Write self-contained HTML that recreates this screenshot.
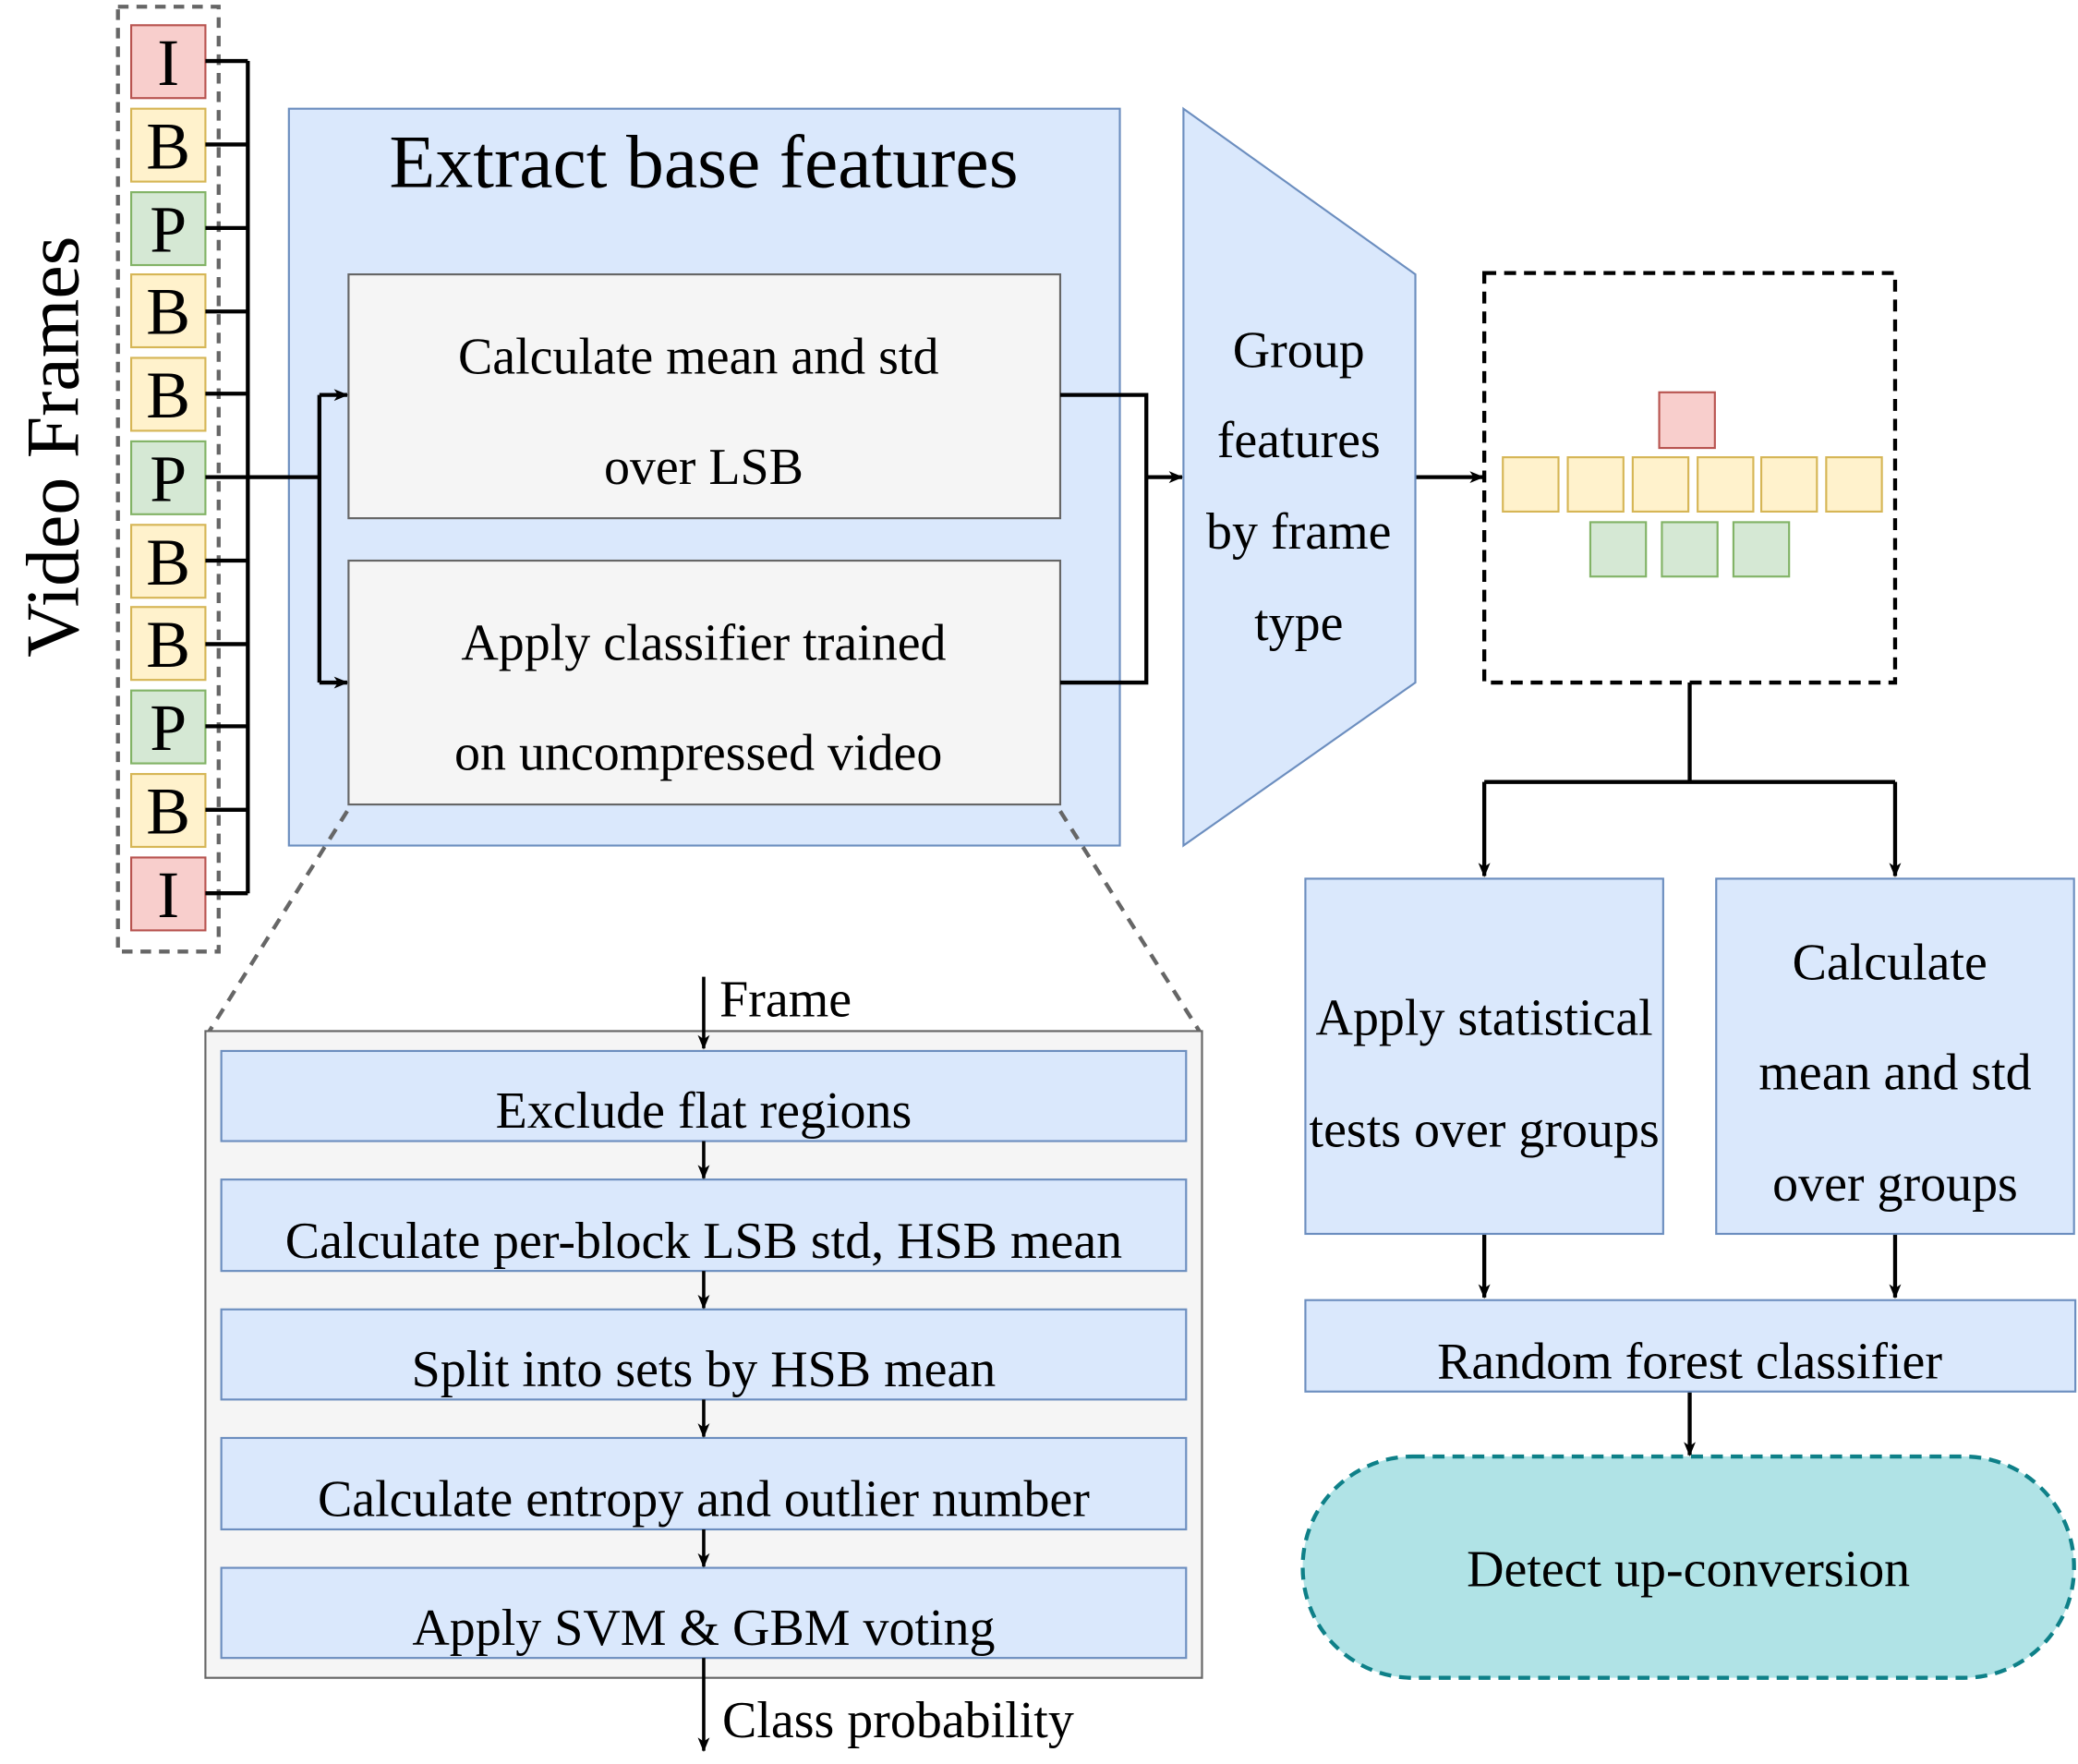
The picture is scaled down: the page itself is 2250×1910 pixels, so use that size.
<!DOCTYPE html>
<html><head><meta charset="utf-8"><style>html,body{margin:0;padding:0;background:#fff}svg{display:block}text{font-family:"Liberation Serif",serif;fill:#000}</style></head><body>
<svg width="2250" height="1910" viewBox="0 0 1568 1331" xmlns="http://www.w3.org/2000/svg">
<defs><marker id="a" markerWidth="12" markerHeight="12" refX="10" refY="6" orient="auto" markerUnits="userSpaceOnUse"><path d="M0,1.5 L11,6 L0,10.5 L3,6 Z" fill="#000"/></marker></defs>
<rect x="89" y="5" width="76" height="713" fill="none" stroke="#666" stroke-width="3" stroke-dasharray="8,6"/>
<g stroke-width="1.5" font-size="50" text-anchor="middle">
<rect x="99" y="19" width="56" height="55" fill="#f8cecc" stroke="#b85450"/><text x="127" y="64" stroke="none">I</text>
<rect x="99" y="82" width="56" height="55" fill="#fff2cc" stroke="#d6b656"/><text x="127" y="127">B</text>
<rect x="99" y="145" width="56" height="55" fill="#d5e8d4" stroke="#82b366"/><text x="127" y="190">P</text>
<rect x="99" y="207" width="56" height="55" fill="#fff2cc" stroke="#d6b656"/><text x="127" y="252">B</text>
<rect x="99" y="270" width="56" height="55" fill="#fff2cc" stroke="#d6b656"/><text x="127" y="315">B</text>
<rect x="99" y="333" width="56" height="55" fill="#d5e8d4" stroke="#82b366"/><text x="127" y="378">P</text>
<rect x="99" y="396" width="56" height="55" fill="#fff2cc" stroke="#d6b656"/><text x="127" y="441">B</text>
<rect x="99" y="458" width="56" height="55" fill="#fff2cc" stroke="#d6b656"/><text x="127" y="503">B</text>
<rect x="99" y="521" width="56" height="55" fill="#d5e8d4" stroke="#82b366"/><text x="127" y="566">P</text>
<rect x="99" y="584" width="56" height="55" fill="#fff2cc" stroke="#d6b656"/><text x="127" y="629">B</text>
<rect x="99" y="647" width="56" height="55" fill="#f8cecc" stroke="#b85450"/><text x="127" y="692">I</text>
</g>
<text x="0" y="0" font-size="57" text-anchor="middle" transform="translate(59,337) rotate(-90)">Video Frames</text>
<rect x="218" y="82" width="627" height="556" fill="#dae8fc" stroke="#6c8ebf" stroke-width="1.5"/>
<g stroke="#000" stroke-width="3" fill="none">
<path d="M155,46H187M155,109H187M155,172H187M155,235H187M155,297H187M155,423H187M155,486H187M155,548H187M155,611H187M155,674H187M187,46V674"/>
<path d="M155,360H241M241,298V515"/>
<path d="M241,298H262" marker-end="url(#a)"/><path d="M241,515H262" marker-end="url(#a)"/>
</g>
<text x="531" y="141" font-size="57" text-anchor="middle">Extract base features</text>
<rect x="263" y="207" width="537" height="184" fill="#f5f5f5" stroke="#666" stroke-width="1.5"/>
<rect x="263" y="423" width="537" height="184" fill="#f5f5f5" stroke="#666" stroke-width="1.5"/>
<g font-size="39" text-anchor="middle">
<text x="527" y="282">Calculate mean and std</text><text x="531" y="365">over LSB</text>
<text x="531" y="498">Apply classifier trained</text><text x="527" y="581">on uncompressed video</text>
</g>
<g stroke="#000" stroke-width="3" fill="none">
<path d="M800,298H865V515H800"/><path d="M865,360H892" marker-end="url(#a)"/>
<path d="M1068,360H1119" marker-end="url(#a)"/>
</g>
<polygon points="893,82 1068,207 1068,515 893,638" fill="#dae8fc" stroke="#6c8ebf" stroke-width="1.5"/>
<g font-size="39" text-anchor="middle"><text x="980" y="277">Group</text><text x="980" y="345">features</text><text x="980" y="414">by frame</text><text x="980" y="483">type</text></g>
<rect x="1120" y="206" width="310" height="309" fill="none" stroke="#000" stroke-width="3" stroke-dasharray="9,6"/>
<g stroke-width="1.5">
<rect x="1252" y="296" width="42" height="42" fill="#f8cecc" stroke="#b85450"/>
<g fill="#fff2cc" stroke="#d6b656"><rect x="1134" y="345" width="42" height="41"/><rect x="1183" y="345" width="42" height="41"/><rect x="1232" y="345" width="42" height="41"/><rect x="1281" y="345" width="42" height="41"/><rect x="1329" y="345" width="42" height="41"/><rect x="1378" y="345" width="42" height="41"/></g>
<g fill="#d5e8d4" stroke="#82b366"><rect x="1200" y="394" width="42" height="41"/><rect x="1254" y="394" width="42" height="41"/><rect x="1308" y="394" width="42" height="41"/></g>
</g>
<g stroke="#000" stroke-width="3" fill="none">
<path d="M1275,515V590M1120,590H1430"/><path d="M1120,590V661" marker-end="url(#a)"/><path d="M1430,590V661" marker-end="url(#a)"/>
<path d="M1120,931V979" marker-end="url(#a)"/><path d="M1430,931V979" marker-end="url(#a)"/>
<path d="M1275,1050V1098" marker-end="url(#a)"/>
</g>
<rect x="985" y="663" width="270" height="268" fill="#dae8fc" stroke="#6c8ebf" stroke-width="1.5"/>
<rect x="1295" y="663" width="270" height="268" fill="#dae8fc" stroke="#6c8ebf" stroke-width="1.5"/>
<rect x="985" y="981" width="581" height="69" fill="#dae8fc" stroke="#6c8ebf" stroke-width="1.5"/>
<rect x="983" y="1099" width="582" height="167" rx="83" fill="#b0e3e6" stroke="#0e8088" stroke-width="3" stroke-dasharray="9,6"/>
<g font-size="39" text-anchor="middle">
<text x="1120" y="781">Apply statistical</text><text x="1120" y="865">tests over groups</text>
<text x="1426" y="739">Calculate</text><text x="1430" y="822">mean and std</text><text x="1430" y="906">over groups</text>
<text x="1275" y="1040">Random forest classifier</text>
<text x="1274" y="1197">Detect up-conversion</text>
</g>
<path d="M262,612L158,778M800,612L905,778" stroke="#666" stroke-width="3" stroke-dasharray="9,7"/>
<rect x="155" y="778" width="752" height="488" fill="#f5f5f5" stroke="#666" stroke-width="1.5"/>
<g fill="#dae8fc" stroke="#6c8ebf" stroke-width="1.5">
<rect x="167" y="793" width="728" height="68"/><rect x="167" y="890" width="728" height="69"/><rect x="167" y="988" width="728" height="68"/><rect x="167" y="1085" width="728" height="69"/><rect x="167" y="1183" width="728" height="68"/>
</g>
<g stroke="#000" stroke-width="2.5" fill="none">
<path d="M531,737V791" marker-end="url(#a)"/><path d="M531,861V889" marker-end="url(#a)"/><path d="M531,959V987" marker-end="url(#a)"/><path d="M531,1056V1084" marker-end="url(#a)"/><path d="M531,1154V1182" marker-end="url(#a)"/><path d="M531,1251V1321" marker-end="url(#a)"/>
</g>
<g font-size="39" text-anchor="middle">
<text x="531" y="851">Exclude flat regions</text>
<text x="531" y="949">Calculate per-block LSB std, HSB mean</text>
<text x="531" y="1046">Split into sets by HSB mean</text>
<text x="531" y="1144">Calculate entropy and outlier number</text>
<text x="531" y="1241">Apply SVM &amp; GBM voting</text>
</g>
<text x="543" y="767" font-size="39">Frame</text>
<text x="545" y="1311" font-size="39">Class probability</text>
</svg>
</body></html>
